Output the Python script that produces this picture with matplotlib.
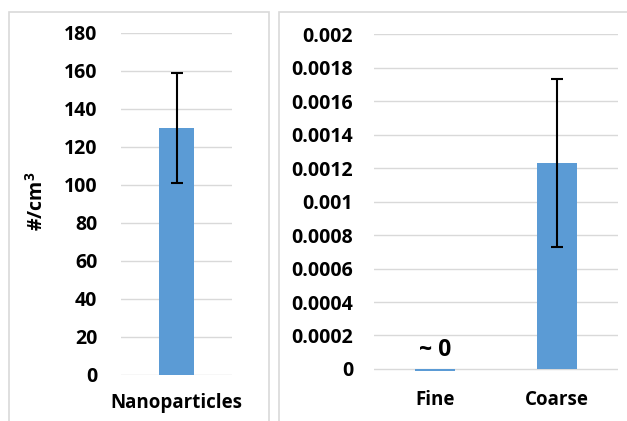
import matplotlib
matplotlib.use("Agg")
import matplotlib.pyplot as plt
from matplotlib.patches import Rectangle

plt.rcParams['font.family'] = ['Open Sans', 'DejaVu Sans']
plt.rcParams['font.weight'] = 'bold'
plt.rcParams['mathtext.fontset'] = 'custom'
plt.rcParams['mathtext.rm'] = 'Open Sans:bold'
plt.rcParams['mathtext.bf'] = 'Open Sans:bold'

# particle number concentrations (#/cm3) with standard deviations
nano_labels = ['Nanoparticles']
nano_values = [130]
nano_err = [29]

pm_labels = ['Fine', 'Coarse']
pm_values = [-0.00001, 0.00123]
pm_err = [0, 0.0005]

bar_color = '#5B9BD5'
grid_color = '#D9D9D9'
fs_y = 14
fs_x = 13.5

fig = plt.figure(figsize=(6.27, 4.21), dpi=100)
W, H = 627, 421

# light grey frames around each chart
for x0, x1 in [(9, 269), (279, 640)]:
    fig.add_artist(Rectangle((x0 / W, -0.05), (x1 - x0) / W, 1 - 12 / H + 0.05,
                             transform=fig.transFigure, fill=False,
                             edgecolor=grid_color, linewidth=1.2))


def style(ax, pad_y, pad_x):
    for s in ax.spines.values():
        s.set_visible(False)
    ax.yaxis.grid(True, color=grid_color, linewidth=1.0)
    ax.set_axisbelow(True)
    ax.tick_params(axis='y', length=0, pad=pad_y, labelsize=fs_y)
    ax.tick_params(axis='x', length=0, pad=pad_x, labelsize=fs_x)


def draw_err(ax, values, errs):
    for i, (v, e) in enumerate(zip(values, errs)):
        if e > 0:
            ax.errorbar(i, v, yerr=e, fmt='none', ecolor='black',
                        elinewidth=1.5, capsize=4.5, capthick=1.5)


# ---- left: nanoparticles ----
ax1 = fig.add_axes([121 / W, 1 - 375 / H, 111 / W, 342 / H])
ax1.bar(range(len(nano_values)), nano_values, width=0.315, color=bar_color)
draw_err(ax1, nano_values, nano_err)
ax1.set_xlim(-0.5, 0.5)
ax1.set_ylim(0, 180)
ax1.set_yticks(range(0, 181, 20))
ax1.set_xticks(range(len(nano_labels)))
ax1.set_xticklabels(nano_labels)
style(ax1, 17, 13)
fig.text(37 / W, 1 - 201 / H, r'#/cm$^{3}$', rotation=90, ha='center', va='center',
         fontsize=fs_y, fontweight='bold')

# ---- right: fine and coarse ----
ax2 = fig.add_axes([374 / W, 1 - 372.3 / H, 244 / W, 338 / H])
ax2.bar(range(len(pm_values)), pm_values, width=0.32, color=bar_color)
draw_err(ax2, pm_values, pm_err)
ax2.set_xlim(-0.5, 1.5)
ticks = [i * 0.0002 for i in range(11)]
ax2.set_yticks(ticks)
ax2.set_yticklabels(['0' if t == 0 else ('%.4f' % t).rstrip('0') for t in ticks])
ax2.set_xticks(range(len(pm_labels)))
ax2.set_xticklabels(pm_labels)
ax2.set_ylim(-0.00002, 0.002)
style(ax2, 15, 13)
ax2.text(0, 0.000115, '~ 0', ha='center', va='center', fontsize=16.5, fontweight='bold')

fig.savefig('out.png', dpi=100)
